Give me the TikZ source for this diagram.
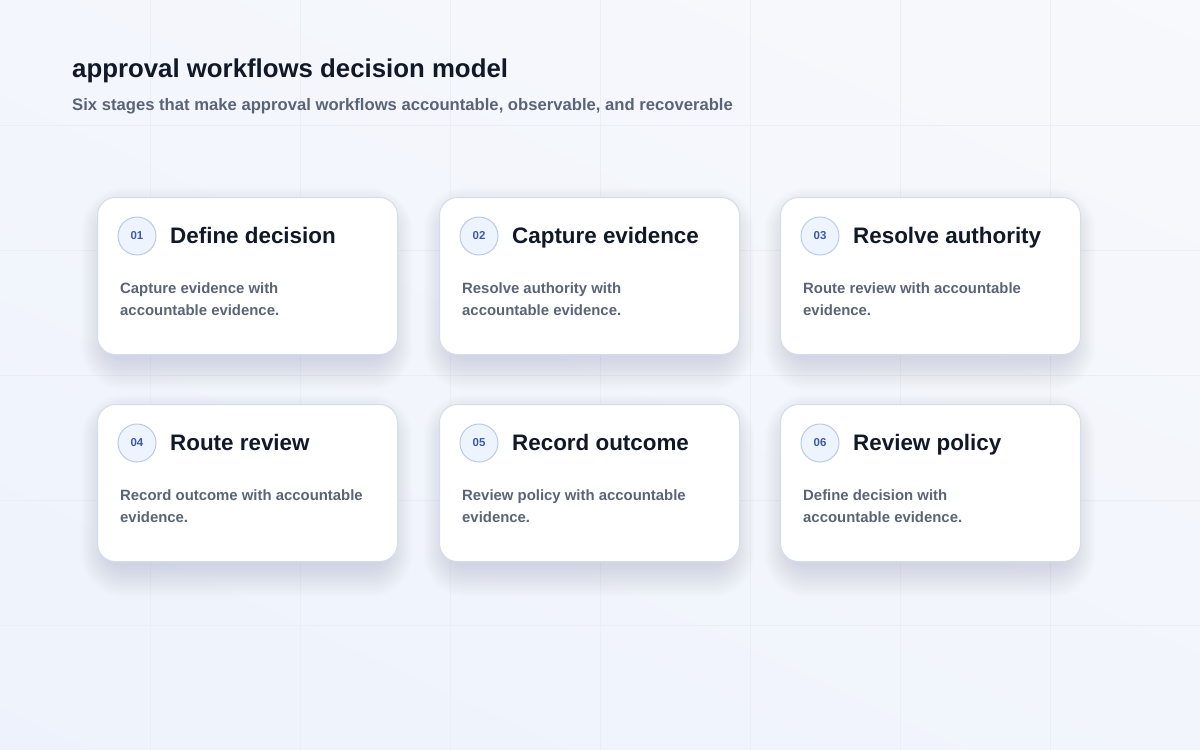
\documentclass[tikz,border=0pt]{standalone}
\usepackage{fontspec}
\setmainfont{Liberation Sans}
\definecolor{bgA}{HTML}{F8F9FC}
\definecolor{bgC}{HTML}{EDF2FC}
\definecolor{gridc}{HTML}{EAEEF5}
\definecolor{titlec}{HTML}{111827}
\definecolor{subc}{HTML}{5A6478}
\definecolor{descc}{HTML}{5B6475}
\definecolor{numc}{HTML}{3D5AA8}
\definecolor{circfill}{HTML}{EEF4FD}
\definecolor{circdraw}{HTML}{BACBE7}
\definecolor{cardline}{HTML}{D6DDEA}
\definecolor{shadowc}{HTML}{34446E}
\tikzset{
  card/.style={draw=cardline, line width=1pt, fill=white, rounded corners=18pt,
    minimum width=300pt, minimum height=157pt, anchor=north west, inner sep=0pt},
  shadowlayer/.style={fill=shadowc, fill opacity=0.0075},
  numcirc/.style={circle, draw=circdraw, line width=1pt, fill=circfill, minimum size=38pt,
    inner sep=0pt, text=numc, font=\bfseries\fontsize{11.5}{12}\selectfont},
  cardtitle/.style={anchor=base west, inner sep=0pt, text=titlec, font=\bfseries\fontsize{22.4}{26}\selectfont},
  carddesc/.style={anchor=north west, inner sep=0pt, text=descc, align=left,
    font=\bfseries\fontsize{14.9}{22}\selectfont},
}
\begin{document}
\begin{tikzpicture}[x=1pt,y=-1pt]
\useasboundingbox (0,0) rectangle (1200,750);
\shade[top color=bgA, bottom color=bgC, shading angle=-25] (-200,-200) rectangle (1400,950);
\foreach \gx in {150,300,...,1050} \draw[gridc, line width=1pt] (\gx,0) -- (\gx,750);
\foreach \gy in {125,250,...,625} \draw[gridc, line width=1pt] (0,\gy) -- (1200,\gy);
\node[anchor=base west, inner sep=0pt, text=titlec, font=\bfseries\fontsize{25.8}{30}\selectfont] (title) at (72,77) {approval workflows decision model};
\node[anchor=base west, inner sep=0pt, text=subc, font=\bfseries\fontsize{16.65}{20}\selectfont] (subtitle) at (72,110) {Six stages that make approval workflows accountable, observable, and recoverable};
\foreach \i/\cx/\cy/\num/\ttl/\la/\lb in {
  1/97/197/01/Define decision/Capture evidence with/accountable evidence.,
  2/439/197/02/Capture evidence/Resolve authority with/accountable evidence.,
  3/780/197/03/Resolve authority/Route review with accountable/evidence.,
  4/97/404/04/Route review/Record outcome with accountable/evidence.,
  5/439/404/05/Record outcome/Review policy with accountable/evidence.,
  6/780/404/06/Review policy/Define decision with/accountable evidence.}{
  \foreach \k in {1,...,16}{
    \fill[shadowlayer, rounded corners={18pt+\k*1.6pt}]
      ({\cx+10-\k*1.6},{\cy+16-\k*1.6}) rectangle ({\cx+290+\k*1.6},{\cy+157+4+\k*2});
  }
  \node[card] (c\i) at (\cx,\cy) {};
  \node[numcirc] (n\i) at ([xshift=40pt,yshift=-39pt]c\i.north west) {\num};
  \node[cardtitle] (t\i) at ([xshift=73pt,yshift=-46pt]c\i.north west) {\ttl};
  \node[carddesc] (d\i) at ([xshift=23pt,yshift=-85.5pt]c\i.north west) {\la\\\lb};
}
\end{tikzpicture}
\end{document}
